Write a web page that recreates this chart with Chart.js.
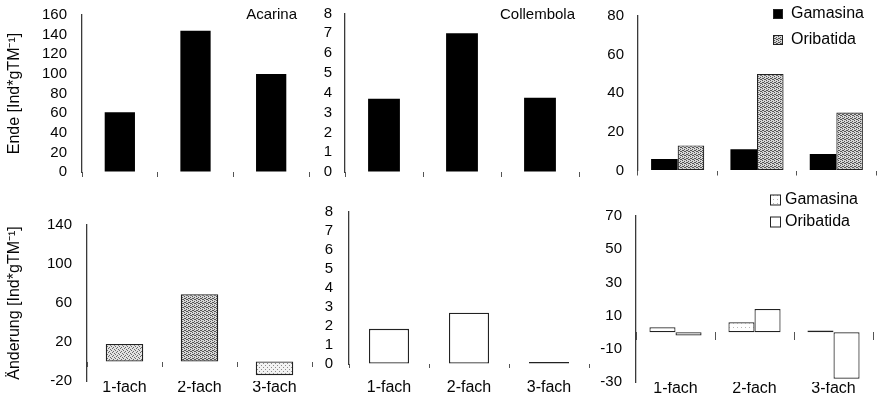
<!DOCTYPE html>
<html><head><meta charset="utf-8">
<script src="https://cdn.jsdelivr.net/npm/chart.js@4.4.1/dist/chart.umd.min.js"></script>
<style>
html,body{margin:0;padding:0;background:#fff;}
#wrap{position:relative;width:879px;height:396px;overflow:hidden;background:#fff;}
canvas{position:absolute;}
</style></head><body><div id="wrap">
<canvas id="c1" width="320" height="196" style="left:0px;top:0px;width:320px;height:196px"></canvas>
<canvas id="c2" width="280" height="196" style="left:310px;top:0px;width:280px;height:196px"></canvas>
<canvas id="c3" width="289" height="196" style="left:590px;top:0px;width:289px;height:196px"></canvas>
<canvas id="c4" width="320" height="200" style="left:0px;top:196px;width:320px;height:200px"></canvas>
<canvas id="c5" width="280" height="200" style="left:320px;top:196px;width:280px;height:200px"></canvas>
<canvas id="c6" width="279" height="210" style="left:600px;top:186px;width:279px;height:210px"></canvas>
</div>
<script>
// ---- data ----
const categories = ['1-fach', '2-fach', '3-fach'];
const acarinaEnde = [61, 144, 100];
const collembolaEnde = [3.7, 7.0, 3.75];
const gamasinaEnde = [6, 11, 8.5];
const oribatidaEnde = [13, 50, 30];
const acarinaAenderung = [18, 69, -14];
const collembolaAenderung = [1.85, 2.7, 0.1];
const gamasinaAenderung = [3, 6, 1];
const oribatidaAenderung = [-2, 14, -28];
const ticksAcarinaEnde = [0, 20, 40, 60, 80, 100, 120, 140, 160];
const ticksCollembolaEnde = [0, 1, 2, 3, 4, 5, 6, 7, 8];
const ticksMilbenEnde = [0, 20, 40, 60, 80];
const ticksAcarinaAenderung = [-20, 20, 60, 100, 140];
const ticksCollembolaAenderung = [0, 1, 2, 3, 4, 5, 6, 7, 8];
const ticksMilbenAenderung = [-30, -10, 10, 30, 50, 70];
const titleEnde = 'Ende [Ind*gTM\u207B\u00B9]';
const titleAenderung = '\u00C4nderung [Ind*gTM\u207B\u00B9]';

// ---- styles ----
const FAMILY = "'Liberation Sans', Arial, Helvetica, sans-serif";
const INK = '#050505';
Chart.defaults.font.family = FAMILY;
Chart.defaults.color = INK;
Chart.defaults.animation = false;

function stipple(bg, fg, pts) {
  const t = document.createElement('canvas');
  t.width = 4; t.height = 4;
  const g = t.getContext('2d');
  g.fillStyle = bg; g.fillRect(0, 0, 4, 4);
  g.fillStyle = fg;
  pts.forEach(p => g.fillRect(p[0], p[1], 1, 1));
  return g.createPattern(t, 'repeat');
}
const greyDots = stipple('#d6d6d6', '#555555', [[0,0],[2,1],[1,2],[3,3],[2,3],[0,2]]);
const midDots = stipple('#e2e2e2', '#6a6a6a', [[0,0],[2,1],[1,3],[3,2]]);
const paleDots = stipple('#f2f2f2', '#8a8a8a', [[1,1],[3,3]]);
const whiteDots = stipple('#ffffff', '#b8b8b8', [[1,1]]);

const panelText = {
  id: 'panelText',
  afterDraw(chart, args, o) {
    const ctx = chart.ctx, a = chart.chartArea;
    ctx.save();
    ctx.textBaseline = 'middle';
    if (o.title) {
      ctx.fillStyle = INK;
      ctx.font = '15px ' + FAMILY;
      ctx.textAlign = 'right';
      ctx.fillText(o.title, a.right - o.titleInset, o.titleY);
    }
    if (o.legend) {
      const L = o.legend;
      ctx.font = '16px ' + FAMILY;
      ctx.textAlign = 'left';
      chart.data.datasets.forEach((ds, i) => {
        const y = L.y + i * L.gap;
        ctx.fillStyle = ds.backgroundColor;
        ctx.fillRect(L.x, y - L.size / 2, L.size, L.size);
        ctx.strokeStyle = '#222';
        ctx.lineWidth = 1;
        ctx.strokeRect(L.x + 0.5, y - L.size / 2 + 0.5, L.size - 1, L.size - 1);
        ctx.fillStyle = INK;
        ctx.fillText(ds.label, L.x + L.textGap, y);
      });
    }
    ctx.restore();
  }
};

function yAxis(min, max, tickArr, width, pad, dashed, title) {
  return {
    type: 'linear', position: 'left', min: min, max: max,
    afterBuildTicks: s => { s.ticks = tickArr.map(v => ({ value: v })); },
    afterFit: s => { s.width = width; s.paddingTop = 0; s.paddingBottom = 0; },
    grid: { display: true, drawOnChartArea: false, drawTicks: false },
    border: { display: true, color: '#3a3a3a', width: 1.3, dash: dashed ? [5, 3] : [] },
    ticks: { autoSkip: false, padding: pad, font: { size: 15 }, color: INK },
    title: title ? { display: true, text: title, font: { size: 16 }, color: INK, padding: { top: 5, bottom: 0 } } : { display: false }
  };
}
function xTop() {
  return {
    type: 'category', position: 'bottom', offset: true,
    grid: { display: true, offset: true, drawOnChartArea: false, drawTicks: true, tickLength: 5, color: '#555', lineWidth: 1 },
    border: { display: false }, ticks: { display: false },
    afterFit: s => { s.height = 6; }
  };
}
function xZero(tl) {
  return {
    type: 'category', position: { y: 0 }, offset: true,
    grid: { display: true, offset: true, drawOnChartArea: false, drawTicks: true, tickLength: tl, color: '#555', lineWidth: 1 },
    border: { display: false }, ticks: { display: false },
    afterFit: s => { s.height = 0; }
  };
}
function xLabels(h, pad) {
  return {
    type: 'category', position: 'bottom', offset: true,
    grid: { display: false, drawTicks: false }, border: { display: false },
    ticks: { padding: pad, font: { size: 16 }, color: INK, autoSkip: false, maxRotation: 0 },
    afterFit: s => { s.height = h; }
  };
}
function make(id, datasets, scales, padding, text) {
  return new Chart(document.getElementById(id), {
    type: 'bar',
    data: { labels: categories, datasets: datasets },
    options: {
      responsive: false, animation: false,
      layout: { padding: padding },
      plugins: { legend: { display: false }, tooltip: { enabled: false }, panelText: text || {} },
      scales: scales
    },
    plugins: [panelText]
  });
}

// ---- top row: Ende ----
make('c1', [{ label: 'Acarina', data: acarinaEnde, backgroundColor: '#000', borderWidth: 0, categoryPercentage: 0.8, barPercentage: 0.5 }],
  { x: xTop(), y: yAxis(0, 160, ticksAcarinaEnde, 82, 15, false, titleEnde) },
  { left: 0, top: 15, right: 11, bottom: 18 },
  { title: 'Acarina', titleInset: 12, titleY: 15 });

make('c2', [{ label: 'Collembola', data: collembolaEnde, backgroundColor: '#000', borderWidth: 0, categoryPercentage: 0.8, barPercentage: 0.51 }],
  { x: xTop(), y: yAxis(0, 8, ticksCollembolaEnde, 35, 13, false, null) },
  { left: 0, top: 13.5, right: 11, bottom: 18 },
  { title: 'Collembola', titleInset: 4, titleY: 15 });

make('c3', [
    { label: 'Gamasina', data: gamasinaEnde, backgroundColor: '#000', borderColor: '#000', borderWidth: 0, categoryPercentage: 0.67, barPercentage: 1 },
    { label: 'Oribatida', data: oribatidaEnde, backgroundColor: greyDots, borderColor: '#222', borderWidth: 1.2, borderSkipped: false, categoryPercentage: 0.67, barPercentage: 1 }
  ],
  { x: xTop(), y: yAxis(0, 80, ticksMilbenEnde, 48, 14, false, null) },
  { left: 0, top: 16, right: 3, bottom: 19.5 },
  { legend: { x: 183, y: 14, gap: 26, size: 10, textGap: 18 } });

// ---- bottom row: Änderung ----
make('c4', [{ label: 'Acarina', data: acarinaAenderung, backgroundColor: [midDots, greyDots, paleDots], borderColor: '#222', borderWidth: 1.3, borderSkipped: false, categoryPercentage: 1, barPercentage: 0.5 }],
  { x: xZero(5), xl: xLabels(15, -2.6), y: yAxis(-20, 140, ticksAcarinaAenderung, 87, 15, true, titleAenderung) },
  { left: 0, top: 29, right: 8, bottom: 0 });

make('c5', [{ label: 'Collembola', data: collembolaAenderung, backgroundColor: '#fff', borderColor: '#222', borderWidth: 1.3, borderSkipped: false, categoryPercentage: 1, barPercentage: 0.5 }],
  { x: xZero(4), xl: xLabels(32, 14.4), y: yAxis(0, 8, ticksCollembolaAenderung, 29, 16, true, null) },
  { left: 0, top: 16, right: 11, bottom: 0 });

make('c6', [
    { label: 'Gamasina', data: gamasinaAenderung, backgroundColor: whiteDots, borderColor: '#222', borderWidth: 1.2, borderSkipped: false, categoryPercentage: 0.66, barPercentage: 1 },
    { label: 'Oribatida', data: oribatidaAenderung, backgroundColor: '#fff', borderColor: '#222', borderWidth: 1.2, borderSkipped: false, categoryPercentage: 0.66, barPercentage: 1 }
  ],
  { x: xZero(8), xl: xLabels(14, -2.6), y: yAxis(-30, 70, ticksMilbenAenderung, 36, 14, true, null) },
  { left: 0, top: 30, right: 6, bottom: 0 },
  { legend: { x: 170, y: 14, gap: 22, size: 11, textGap: 15 } });
</script>
</body></html>
